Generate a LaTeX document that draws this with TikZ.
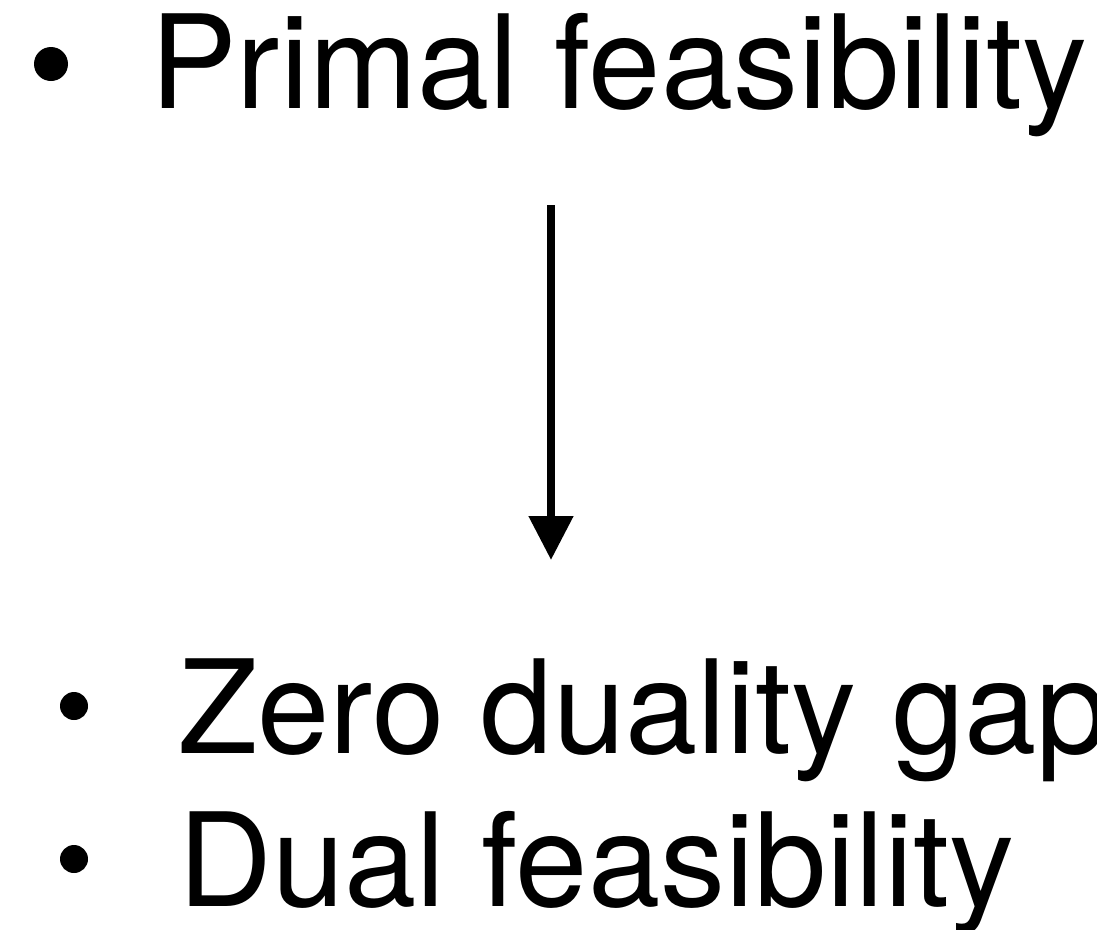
\documentclass[tikz,border=0pt]{standalone}
\usepackage{fontspec}
\setmainfont{TeX Gyre Heros}
\usetikzlibrary{arrows.meta}
\begin{document}
\begin{tikzpicture}[x=1pt,y=-1pt,
  label/.style={anchor=base west,inner sep=0pt,font=\fontsize{130}{153}\selectfont},
  bullet/.style={circle,fill=black,inner sep=0pt}]
\useasboundingbox (0,0) rectangle (1097,929);
\node[bullet,minimum size=34pt] (b1) at (51,64) {};
\node[label] (primal) at (150,108) {Primal feasibility};
\node[bullet,minimum size=28pt] (b2) at (74,706) {};
\node[label] (zero) at (178,753) {Zero duality gap};
\node[bullet,minimum size=28pt] (b3) at (74,859) {};
\node[label] (dual) at (178,906) {Dual feasibility};
\coordinate (s) at (551,205);
\coordinate (t) at (551,560);
\draw[line width=8pt,-{Triangle[length=44pt,width=43pt]}] (s) -- (t);
\end{tikzpicture}
\end{document}
